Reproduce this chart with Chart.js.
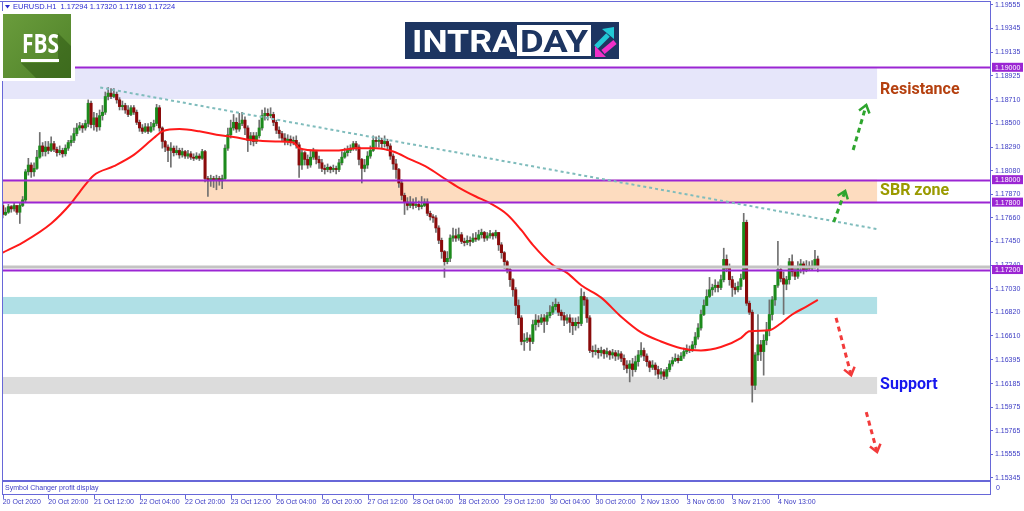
<!DOCTYPE html>
<html>
<head>
<meta charset="utf-8">
<script src="https://cdn.jsdelivr.net/npm/chart.js@4.4.1/dist/chart.umd.min.js"></script>
<style>
html, body { margin: 0; padding: 0; background: #fff; }
#wrap { width: 1024px; height: 511px; }
</style>
</head>
<body>
<div id="wrap"><canvas id="myChart" width="1024" height="511"></canvas></div>
<script>
let ctx = document.getElementById('myChart')

// EURUSD H1, one value per hourly bar (bar 0 = 20 Oct 04:00)
const opens = [
  1.1777,1.1769,1.1771,1.1776,1.1774,1.1777,1.1771,1.1777,1.1782,1.1807,1.1813,1.1807,1.1810,1.1820,1.1830,1.1825,
  1.1829,1.1826,1.1832,1.1827,1.1824,1.1826,1.1823,1.1828,1.1833,1.1835,1.1841,1.1846,1.1848,1.1846,1.1850,1.1868,
  1.1849,1.1855,1.1847,1.1857,1.1860,1.1874,1.1877,1.1874,1.1876,1.1871,1.1865,1.1866,1.1862,1.1858,1.1864,1.1860,
  1.1851,1.1846,1.1843,1.1847,1.1843,1.1847,1.1850,1.1864,1.1846,1.1834,1.1829,1.1826,1.1828,1.1824,1.1826,1.1822,
  1.1825,1.1821,1.1823,1.1820,1.1819,1.1821,1.1819,1.1825,1.1801,1.1799,1.1801,1.1800,1.1801,1.1799,1.1801,1.1828,
  1.1840,1.1846,1.1851,1.1845,1.1850,1.1853,1.1846,1.1835,1.1839,1.1834,1.1839,1.1846,1.1857,1.1859,1.1857,1.1858,
  1.1851,1.1844,1.1841,1.1837,1.1834,1.1836,1.1834,1.1835,1.1831,1.1813,1.1824,1.1818,1.1813,1.1820,1.1825,1.1818,
  1.1815,1.1810,1.1809,1.1811,1.1809,1.1810,1.1809,1.1815,1.1820,1.1824,1.1826,1.1828,1.1832,1.1829,1.1818,1.1810,
  1.1813,1.1821,1.1826,1.1835,1.1834,1.1835,1.1832,1.1834,1.1830,1.1821,1.1814,1.1809,1.1797,1.1786,1.1780,1.1777,
  1.1779,1.1777,1.1778,1.1776,1.1777,1.1780,1.1770,1.1767,1.1766,1.1757,1.1746,1.1736,1.1727,1.1730,1.1748,1.1750,
  1.1748,1.1751,1.1745,1.1744,1.1746,1.1745,1.1748,1.1747,1.1751,1.1753,1.1748,1.1750,1.1752,1.1750,1.1753,1.1742,
  1.1735,1.1727,1.1720,1.1711,1.1702,1.1688,1.1677,1.1656,1.1657,1.1659,1.1656,1.1671,1.1675,1.1673,1.1677,1.1674,
  1.1679,1.1682,1.1687,1.1689,1.1682,1.1679,1.1675,1.1677,1.1673,1.1670,1.1673,1.1672,1.1696,1.1693,1.1677,1.1648,
  1.1647,1.1648,1.1646,1.1648,1.1645,1.1647,1.1644,1.1646,1.1643,1.1645,1.1641,1.1635,1.1632,1.1636,1.1631,1.1638,
  1.1644,1.1648,1.1643,1.1638,1.1633,1.1635,1.1631,1.1627,1.1629,1.1625,1.1631,1.1636,1.1639,1.1641,1.1639,1.1643,
  1.1647,1.1649,1.1648,1.1653,1.1660,1.1668,1.1680,1.1688,1.1696,1.1702,1.1704,1.1706,1.1704,1.1711,1.1729,1.1721,
  1.1711,1.1704,1.1702,1.1705,1.1712,1.1762,1.1690,1.1682,1.1617,1.1644,1.1653,1.1647,1.1657,1.1666,1.1680,1.1693,
  1.1706,1.1720,1.1712,1.1707,1.1711,1.1727,1.1718,1.1714,1.1723,1.1725,1.1720,1.1723,1.1721,1.1723,1.17294
]
const highs = [
  1.1779,1.1775,1.1778,1.1777,1.1779,1.1777,1.1779,1.1785,1.1809,1.1819,1.1815,1.1815,1.1826,1.1842,1.1833,1.1834,
  1.1834,1.1838,1.1834,1.1829,1.1830,1.1828,1.1831,1.1835,1.1839,1.1846,1.1850,1.1851,1.1850,1.1853,1.1871,1.1870,
  1.1860,1.1859,1.1862,1.1866,1.1878,1.1882,1.1881,1.1881,1.1878,1.1873,1.1870,1.1868,1.1866,1.1866,1.1866,1.1862,
  1.1853,1.1849,1.1850,1.1850,1.1851,1.1853,1.1867,1.1866,1.1847,1.1835,1.1831,1.1833,1.1830,1.1830,1.1828,1.1828,
  1.1826,1.1826,1.1825,1.1823,1.1824,1.1823,1.1827,1.1826,1.1803,1.1804,1.1803,1.1804,1.1803,1.1804,1.1831,1.1846,
  1.1853,1.1858,1.1855,1.1859,1.1860,1.1856,1.1848,1.1842,1.1842,1.1842,1.1853,1.1862,1.1864,1.1863,1.1864,1.1860,
  1.1853,1.1847,1.1843,1.1841,1.1840,1.1839,1.1838,1.1839,1.1833,1.1826,1.1825,1.1822,1.1826,1.1828,1.1826,1.1821,
  1.1818,1.1813,1.1814,1.1812,1.1813,1.1812,1.1818,1.1825,1.1828,1.1830,1.1831,1.1834,1.1834,1.1831,1.1819,1.1818,
  1.1825,1.1830,1.1839,1.1838,1.1839,1.1837,1.1839,1.1836,1.1832,1.1823,1.1818,1.1810,1.1800,1.1788,1.1784,1.1785,
  1.1783,1.1784,1.1781,1.1785,1.1783,1.1783,1.1772,1.1769,1.1768,1.1759,1.1748,1.1737,1.1736,1.1751,1.1757,1.1756,
  1.1757,1.1753,1.1748,1.1750,1.1749,1.1752,1.1753,1.1755,1.1756,1.1754,1.1753,1.1755,1.1753,1.1755,1.1753,1.1744,
  1.1736,1.1728,1.1721,1.1712,1.1704,1.1693,1.1679,1.1663,1.1664,1.1662,1.1675,1.1680,1.1679,1.1680,1.1680,1.1682,
  1.1688,1.1691,1.1694,1.1691,1.1684,1.1682,1.1680,1.1680,1.1677,1.1677,1.1678,1.1703,1.1700,1.1695,1.1679,1.1652,
  1.1653,1.1650,1.1651,1.1649,1.1650,1.1648,1.1649,1.1648,1.1648,1.1647,1.1644,1.1639,1.1639,1.1641,1.1643,1.1648,
  1.1655,1.1650,1.1645,1.1639,1.1639,1.1637,1.1634,1.1632,1.1631,1.1633,1.1639,1.1642,1.1645,1.1644,1.1646,1.1650,
  1.1653,1.1652,1.1656,1.1664,1.1672,1.1684,1.1693,1.1702,1.1713,1.1707,1.1711,1.1709,1.1715,1.1739,1.1733,1.1725,
  1.1714,1.1708,1.1709,1.1716,1.1770,1.1764,1.1692,1.1684,1.1646,1.1680,1.1657,1.1662,1.1673,1.1693,1.1696,1.1706,
  1.1745,1.1723,1.1718,1.1714,1.1730,1.1733,1.1723,1.1727,1.1729,1.1727,1.1728,1.1727,1.1728,1.1737,1.17320
]
const lows = [
  1.1766,1.1768,1.1770,1.1771,1.1772,1.1769,1.1761,1.1776,1.1780,1.1804,1.1802,1.1803,1.1809,1.1819,1.1821,1.1821,
  1.1823,1.1825,1.1825,1.1821,1.1822,1.1820,1.1821,1.1826,1.1830,1.1833,1.1839,1.1844,1.1842,1.1844,1.1847,1.1846,
  1.1844,1.1843,1.1844,1.1853,1.1858,1.1871,1.1872,1.1873,1.1868,1.1862,1.1862,1.1859,1.1856,1.1857,1.1858,1.1849,
  1.1843,1.1841,1.1842,1.1841,1.1842,1.1844,1.1848,1.1843,1.1828,1.1825,1.1816,1.1811,1.1821,1.1822,1.1819,1.1820,
  1.1819,1.1819,1.1818,1.1817,1.1818,1.1817,1.1818,1.1798,1.1785,1.1794,1.1793,1.1791,1.1795,1.1792,1.1799,1.1826,
  1.1837,1.1844,1.1842,1.1843,1.1848,1.1840,1.1825,1.1831,1.1830,1.1832,1.1837,1.1844,1.1853,1.1853,1.1855,1.1848,
  1.1841,1.1837,1.1834,1.1831,1.1831,1.1830,1.1831,1.1828,1.1802,1.1809,1.1813,1.1810,1.1811,1.1818,1.1814,1.1810,
  1.1807,1.1805,1.1807,1.1806,1.1807,1.1805,1.1807,1.1813,1.1819,1.1821,1.1824,1.1826,1.1826,1.1813,1.1797,1.1807,
  1.1810,1.1819,1.1825,1.1829,1.1829,1.1828,1.1829,1.1826,1.1818,1.1809,1.1801,1.1793,1.1782,1.1769,1.1773,1.1775,
  1.1774,1.1775,1.1773,1.1774,1.1776,1.1768,1.1764,1.1762,1.1753,1.1743,1.1730,1.1713,1.1725,1.1727,1.1745,1.1745,
  1.1746,1.1743,1.1741,1.1742,1.1741,1.1744,1.1745,1.1746,1.1748,1.1745,1.1746,1.1748,1.1747,1.1748,1.1737,1.1730,
  1.1721,1.1717,1.1705,1.1696,1.1680,1.1671,1.1653,1.1648,1.1655,1.1648,1.1654,1.1666,1.1669,1.1671,1.1664,1.1671,
  1.1677,1.1680,1.1684,1.1679,1.1675,1.1670,1.1672,1.1664,1.1662,1.1666,1.1668,1.1670,1.1688,1.1673,1.1646,1.1642,
  1.1644,1.1641,1.1643,1.1641,1.1642,1.1640,1.1641,1.1639,1.1640,1.1638,1.1631,1.1628,1.1620,1.1625,1.1629,1.1634,
  1.1642,1.1639,1.1634,1.1629,1.1631,1.1626,1.1623,1.1623,1.1622,1.1623,1.1629,1.1634,1.1638,1.1637,1.1639,1.1641,
  1.1645,1.1646,1.1647,1.1650,1.1658,1.1666,1.1679,1.1688,1.1695,1.1697,1.1700,1.1700,1.1702,1.1709,1.1718,1.1706,
  1.1696,1.1698,1.1700,1.1702,1.1711,1.1688,1.1680,1.1602,1.1613,1.1639,1.1639,1.1626,1.1653,1.1661,1.1675,1.1688,
  1.1704,1.1709,1.1680,1.1702,1.1707,1.1714,1.1711,1.1712,1.1717,1.1716,1.1718,1.1719,1.1719,1.1721,1.17180
]
const closes = [
  1.1769,1.1771,1.1776,1.1774,1.1777,1.1771,1.1777,1.1782,1.1807,1.1813,1.1807,1.1810,1.1820,1.1830,1.1825,1.1829,
  1.1826,1.1832,1.1827,1.1824,1.1826,1.1823,1.1828,1.1833,1.1835,1.1841,1.1846,1.1848,1.1846,1.1850,1.1868,1.1849,
  1.1855,1.1847,1.1857,1.1860,1.1874,1.1877,1.1874,1.1876,1.1871,1.1865,1.1866,1.1862,1.1858,1.1864,1.1860,1.1851,
  1.1846,1.1843,1.1847,1.1843,1.1847,1.1850,1.1864,1.1846,1.1834,1.1829,1.1826,1.1828,1.1824,1.1826,1.1822,1.1825,
  1.1821,1.1823,1.1820,1.1819,1.1821,1.1819,1.1825,1.1801,1.1799,1.1801,1.1800,1.1801,1.1799,1.1801,1.1828,1.1840,
  1.1846,1.1851,1.1845,1.1850,1.1853,1.1846,1.1835,1.1839,1.1834,1.1839,1.1846,1.1857,1.1859,1.1857,1.1858,1.1851,
  1.1844,1.1841,1.1837,1.1834,1.1836,1.1834,1.1835,1.1831,1.1813,1.1824,1.1818,1.1813,1.1820,1.1825,1.1818,1.1815,
  1.1810,1.1809,1.1811,1.1809,1.1810,1.1809,1.1815,1.1820,1.1824,1.1826,1.1828,1.1832,1.1829,1.1818,1.1810,1.1813,
  1.1821,1.1826,1.1835,1.1834,1.1835,1.1832,1.1834,1.1830,1.1821,1.1814,1.1809,1.1797,1.1786,1.1780,1.1777,1.1779,
  1.1777,1.1778,1.1776,1.1777,1.1780,1.1770,1.1767,1.1766,1.1757,1.1746,1.1736,1.1727,1.1730,1.1748,1.1750,1.1748,
  1.1751,1.1745,1.1744,1.1746,1.1745,1.1748,1.1747,1.1751,1.1753,1.1748,1.1750,1.1752,1.1750,1.1753,1.1742,1.1735,
  1.1727,1.1720,1.1711,1.1702,1.1688,1.1677,1.1656,1.1657,1.1659,1.1656,1.1671,1.1675,1.1673,1.1677,1.1674,1.1679,
  1.1682,1.1687,1.1689,1.1682,1.1679,1.1675,1.1677,1.1673,1.1670,1.1673,1.1672,1.1696,1.1693,1.1677,1.1648,1.1647,
  1.1648,1.1646,1.1648,1.1645,1.1647,1.1644,1.1646,1.1643,1.1645,1.1641,1.1635,1.1632,1.1636,1.1631,1.1638,1.1644,
  1.1648,1.1643,1.1638,1.1633,1.1635,1.1631,1.1627,1.1629,1.1625,1.1631,1.1636,1.1639,1.1641,1.1639,1.1643,1.1647,
  1.1649,1.1648,1.1653,1.1660,1.1668,1.1680,1.1688,1.1696,1.1702,1.1704,1.1706,1.1704,1.1711,1.1729,1.1721,1.1711,
  1.1704,1.1702,1.1705,1.1712,1.1762,1.1690,1.1682,1.1617,1.1644,1.1653,1.1647,1.1657,1.1666,1.1680,1.1693,1.1706,
  1.1720,1.1712,1.1707,1.1711,1.1727,1.1718,1.1714,1.1723,1.1725,1.1720,1.1723,1.1721,1.1723,1.1729,1.17224
]

// red moving average at these bars
const maBars = [0,7,17,24,27,32,39,46,53,56,62,69,75,81,88,96,102,104,111,118,124,131,137,143,149,155,160,166,171,177,182,186,193,198,203,210,217,224,231,238,245,252,259,262,269,273,277,282,286]
const maValues = [1.1735,1.1744,1.1761,1.1779,1.1789,1.1804,1.1812,1.1822,1.1837,1.1843,1.1845,1.1843,1.1840,1.1838,1.1835,1.1834,1.1833,1.1828,1.1826,1.1826,1.1828,1.1828,1.1825,1.1818,1.1811,1.1801,1.1793,1.1785,1.1779,1.1769,1.1755,1.1742,1.1724,1.1717,1.1706,1.1695,1.1678,1.1664,1.1656,1.1650,1.1648,1.1651,1.1659,1.1665,1.1666,1.1672,1.1680,1.1687,1.1693]

const tickBars = [0, 16, 32, 48, 64, 80, 96, 112, 128, 144, 160, 176, 192, 208, 224, 240, 256, 272]
const timeLabels = ['20 Oct 2020', '20 Oct 20:00', '21 Oct 12:00', '22 Oct 04:00', '22 Oct 20:00', '23 Oct 12:00', '26 Oct 04:00', '26 Oct 20:00', '27 Oct 12:00', '28 Oct 04:00', '28 Oct 20:00', '29 Oct 12:00', '30 Oct 04:00', '30 Oct 20:00', '2 Nov 13:00', '3 Nov 05:00', '3 Nov 21:00', '4 Nov 13:00']
const priceTicks = [1.19555, 1.19345, 1.19135, 1.18925, 1.18710, 1.18500, 1.18290, 1.18080, 1.17870, 1.17660, 1.17450, 1.17240, 1.17030, 1.16820, 1.16610, 1.16395, 1.16185, 1.15975, 1.15765, 1.15555, 1.15345]

// horizontal levels and zones
const levels = [1.19000, 1.18000, 1.17800, 1.17200]
const zoneTops = [1.19000, 1.18000, 1.16956, 1.16244]
const zoneBottoms = [1.18718, 1.17800, 1.16804, 1.16092]
const zoneNames = ['Resistance', 'SBR zone', '', 'Support']
const zoneNamePrices = [1.18800, 1.17900, 0, 1.16170]

const zoneColors = ['#e6e6fa', '#fddcbf', '#b0e0e6', '#dcdcdc']
const zoneNameColors = ['#b5400f', '#9a9a00', '', '#1717ee']
const zoneEnd = 306.8
const trend = [[34.2, 1.18820], [306.8, 1.17560]]
const upArrows = [[298.4, 1.18264, 303.0, 1.18664], [291.6, 1.17623, 295.6, 1.17900]]
const downArrows = [[292.4, 1.16770, 297.7, 1.16260], [303.0, 1.15932, 306.8, 1.15576]]

const frameBlue = '#6767d8'
const axisText = '#3c3cc4'
const levelPurple = '#9b26d3'
const bullColor = '#1c8a1c'
const bearColor = '#8a0b0b'
const wickColor = '#707070'

const barIdx = opens.map((o, i) => i)
const bodyColors = closes.map((c, i) => c >= opens[i] ? bullColor : bearColor)

function fitText(c, text, x, y, width, font, color) {
  c.font = font
  const w = c.measureText(text).width
  c.save()
  c.translate(x, y)
  c.scale(width / w, 1)
  c.fillStyle = color
  c.textAlign = 'left'
  c.textBaseline = 'alphabetic'
  c.fillText(text, 0, 0)
  c.restore()
}

function dashedArrow(c, x1, y1, x2, y2, color) {
  c.strokeStyle = color
  c.lineWidth = 3
  c.setLineDash([5, 4])
  c.beginPath()
  c.moveTo(x1, y1)
  c.lineTo(x2, y2)
  c.stroke()
  c.setLineDash([])
  const ang = Math.atan2(y2 - y1, x2 - x1)
  c.lineWidth = 2.5
  c.beginPath()
  c.moveTo(x2 - 9 * Math.cos(ang - 0.65), y2 - 9 * Math.sin(ang - 0.65))
  c.lineTo(x2, y2)
  c.lineTo(x2 - 9 * Math.cos(ang + 0.65), y2 - 9 * Math.sin(ang + 0.65))
  c.stroke()
}

const overlay = {
  id: 'overlay',
  beforeDatasetsDraw(chart) {
    const c = chart.ctx, a = chart.chartArea, x = chart.scales.x, y = chart.scales.y
    c.save()
    const xe = x.getPixelForValue(zoneEnd)
    zoneTops.forEach((top, k) => {
      const y1 = y.getPixelForValue(top), y2 = y.getPixelForValue(zoneBottoms[k])
      c.fillStyle = zoneColors[k]
      c.fillRect(a.left, y1, xe - a.left, y2 - y1)
    })
    c.restore()
  },
  afterDatasetsDraw(chart) {
    const c = chart.ctx, a = chart.chartArea, x = chart.scales.x, y = chart.scales.y
    c.save()
    // gray line sitting on the 1.17200 level
    c.strokeStyle = '#c4c4c4'
    c.lineWidth = 3
    c.beginPath()
    c.moveTo(a.left, y.getPixelForValue(1.17222))
    c.lineTo(a.right, y.getPixelForValue(1.17222))
    c.stroke()
    c.strokeStyle = levelPurple
    c.lineWidth = 2
    levels.forEach(v => {
      const py = Math.round(y.getPixelForValue(v)) + 0.5
      c.beginPath()
      c.moveTo(a.left, py)
      c.lineTo(a.right, py)
      c.stroke()
    })
    // dotted trend line
    c.strokeStyle = '#7fbcbc'
    c.lineWidth = 2
    c.setLineDash([3, 3])
    c.beginPath()
    c.moveTo(x.getPixelForValue(trend[0][0]), y.getPixelForValue(trend[0][1]))
    c.lineTo(x.getPixelForValue(trend[1][0]), y.getPixelForValue(trend[1][1]))
    c.stroke()
    c.setLineDash([])
    upArrows.forEach(r => dashedArrow(c, x.getPixelForValue(r[0]), y.getPixelForValue(r[1]), x.getPixelForValue(r[2]), y.getPixelForValue(r[3]), '#2ea52e'))
    downArrows.forEach(r => dashedArrow(c, x.getPixelForValue(r[0]), y.getPixelForValue(r[1]), x.getPixelForValue(r[2]), y.getPixelForValue(r[3]), '#f23b3b'))
    // zone names
    c.font = 'bold 16px Roboto'
    c.textBaseline = 'middle'
    c.textAlign = 'left'
    zoneNames.forEach((n, k) => {
      if (!n) return
      c.fillStyle = zoneNameColors[k]
      c.fillText(n, x.getPixelForValue(zoneEnd) + 3, y.getPixelForValue(zoneNamePrices[k]))
    })
    c.restore()
  },
  afterDraw(chart) {
    const c = chart.ctx, a = chart.chartArea, x = chart.scales.x, y = chart.scales.y
    c.save()
    // frame and the small sub window
    c.fillStyle = '#ffffff'
    c.fillRect(a.left, 482, a.right - a.left, 12)
    c.strokeStyle = frameBlue
    c.lineWidth = 1
    c.beginPath()
    c.moveTo(0, 1.5); c.lineTo(a.right, 1.5)
    c.moveTo(2.5, 1); c.lineTo(2.5, 495)
    c.moveTo(a.right + 0.5, 1); c.lineTo(a.right + 0.5, 495)
    c.moveTo(2, 494.5); c.lineTo(a.right, 494.5)
    c.stroke()
    c.lineWidth = 2
    c.beginPath()
    c.moveTo(2, 481); c.lineTo(a.right, 481)
    c.stroke()
    c.lineWidth = 1
    c.beginPath()
    tickBars.forEach(b => {
      const px = Math.round(x.getPixelForValue(b)) + 0.5
      c.moveTo(px, 495); c.lineTo(px, 499)
    })
    c.stroke()
    c.fillStyle = axisText
    c.font = '7px "Liberation Sans"'
    c.textBaseline = 'middle'
    c.textAlign = 'left'
    c.fillText('Symbol Changer profit display', 5, 488.5)
    c.fillText('0', 996, 488.5)

    // price boxes for the levels
    levels.forEach(v => {
      const py = y.getPixelForValue(v)
      c.fillStyle = levelPurple
      c.fillRect(992, py - 4.5, 31, 9)
      c.fillStyle = '#ffffff'
      c.font = '7px "Liberation Sans"'
      c.fillText(v.toFixed(5), 995, py + 0.5)
    })

    // title line
    c.fillStyle = '#2a2ad0'
    c.beginPath()
    c.moveTo(5, 5); c.lineTo(10, 5); c.lineTo(7.5, 8.5); c.closePath()
    c.fill()
    c.font = '7.5px "Liberation Sans"'
    c.fillText('EURUSD.H1  1.17294 1.17320 1.17180 1.17224', 13, 7)

    // FBS logo
    c.fillStyle = '#ffffff'
    c.fillRect(0, 11, 75, 70)
    const g = c.createLinearGradient(3, 14, 71, 78)
    g.addColorStop(0, '#6a9c3c')
    g.addColorStop(1, '#4f8229')
    c.fillStyle = g
    c.fillRect(3, 14, 68, 64)
    c.fillStyle = 'rgba(40, 80, 15, 0.45)'
    c.beginPath()
    c.moveTo(58, 33); c.lineTo(71, 46); c.lineTo(71, 78); c.lineTo(36, 78)
    c.lineTo(21, 63); c.lineTo(58, 63); c.closePath()
    c.fill()
    fitText(c, 'FBS', 22, 53, 37, 'bold 27px "Open Sans"', '#ffffff')
    c.fillStyle = '#ffffff'
    c.fillRect(21, 59, 38, 3)

    // INTRADAY logo
    c.fillStyle = '#1d3561'
    c.fillRect(405, 22, 214, 37)
    fitText(c, 'INTRA', 412, 52, 104, 'bold 32px Roboto', '#ffffff')
    c.fillStyle = '#ffffff'
    c.fillRect(517, 25, 74, 31)
    fitText(c, 'DAY', 520, 52, 68, 'bold 32px Roboto', '#1d3561')
    c.lineCap = 'butt'
    c.strokeStyle = '#22c9d6'
    c.fillStyle = '#22c9d6'
    c.lineWidth = 5
    c.beginPath(); c.moveTo(596, 47); c.lineTo(608, 35); c.stroke()
    c.beginPath(); c.moveTo(614, 27); c.lineTo(614, 39); c.lineTo(602, 29); c.closePath(); c.fill()
    c.strokeStyle = '#f02fc8'
    c.fillStyle = '#f02fc8'
    c.beginPath(); c.moveTo(615, 42); c.lineTo(603, 52); c.stroke()
    c.beginPath(); c.moveTo(595, 57); c.lineTo(595, 46); c.lineTo(606, 57); c.closePath(); c.fill()
    c.restore()
  }
}

let myChart = new Chart(ctx, {
  type: 'bar',
  data: {
    datasets: [{
      type: 'line',
      label: 'MA',
      data: maBars.map((b, i) => ({x: b, y: maValues[i]})),
      borderColor: '#ff1a1a',
      borderWidth: 2,
      pointRadius: 0,
      cubicInterpolationMode: 'monotone',
      order: 0
    }, {
      label: 'Body',
      data: barIdx.map(i => ({x: i, y: [opens[i], closes[i]]})),
      backgroundColor: bodyColors,
      barThickness: 2.4,
      minBarLength: 1,
      grouped: false,
      order: 1
    }, {
      label: 'Wick',
      data: barIdx.map(i => ({x: i, y: [lows[i], highs[i]]})),
      backgroundColor: wickColor,
      barThickness: 1,
      grouped: false,
      order: 2
    }]
  },
  options: {
    responsive: false,
    animation: false,
    devicePixelRatio: 1,
    layout: { padding: { left: 2, top: 2, right: 0, bottom: 0 } },
    plugins: { legend: { display: false }, tooltip: { enabled: false } },
    scales: {
      x: {
        type: 'linear',
        min: -0.25,
        max: 346.42,
        offset: false,
        afterBuildTicks: s => { s.ticks = tickBars.map(v => ({value: v})) },
        afterFit: s => { s.height = 31; s.paddingLeft = 0; s.paddingRight = 0 },
        grid: { display: false, drawTicks: false },
        border: { display: false },
        ticks: {
          autoSkip: false, maxRotation: 0, align: 'start', padding: 18,
          color: axisText, font: { family: 'Liberation Sans', size: 7 },
          callback: (v, i) => timeLabels[i]
        }
      },
      y: {
        position: 'right',
        min: 1.15327,
        max: 1.19581,
        afterBuildTicks: s => { s.ticks = priceTicks.map(v => ({value: v})) },
        afterFit: s => { s.width = 34; s.paddingTop = 0; s.paddingBottom = 0 },
        grid: { drawOnChartArea: false, tickLength: 3, color: frameBlue },
        border: { color: frameBlue, width: 1 },
        ticks: {
          autoSkip: false, padding: 2,
          color: axisText, font: { family: 'Liberation Sans', size: 7 },
          callback: v => v.toFixed(5)
        }
      }
    }
  },
  plugins: [overlay]
})
</script>
</body>
</html>
